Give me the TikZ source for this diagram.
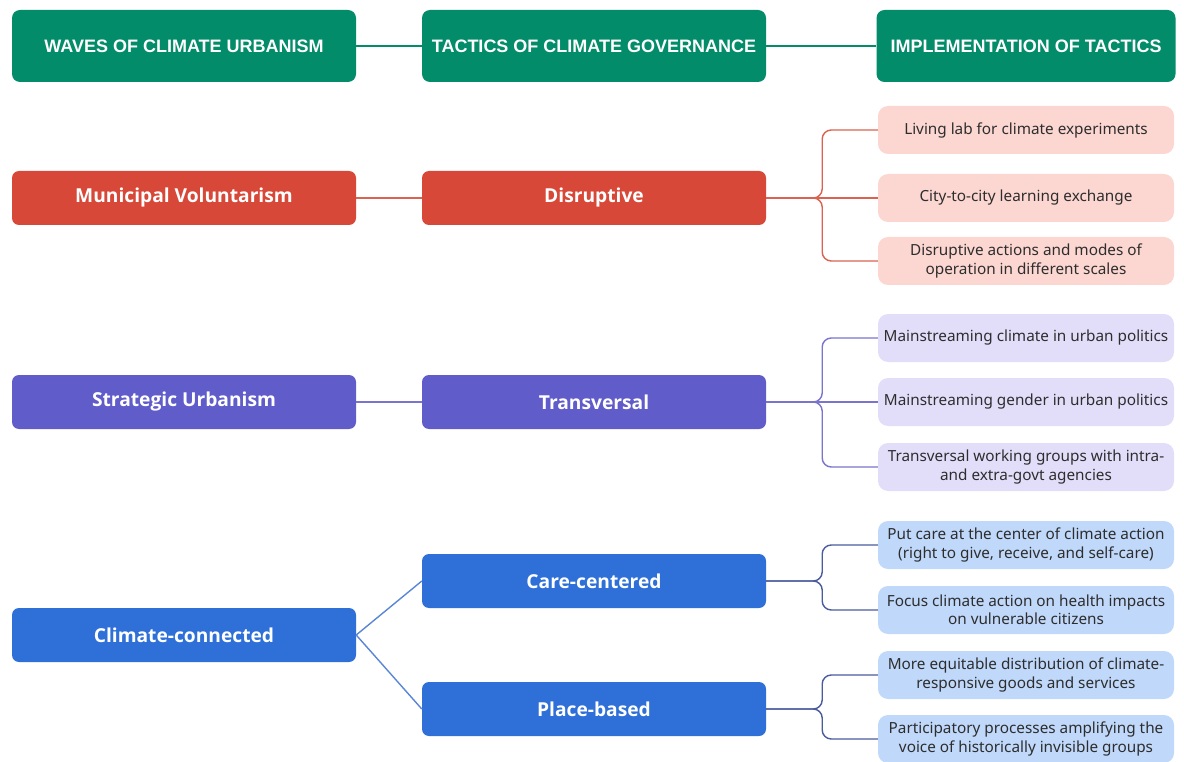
\documentclass[tikz,border=0pt]{standalone}
\usepackage{fontspec}
\setmainfont{Liberation Sans}
\newfontfamily\boxfont{Open Sans}
\newfontfamily\leaffont{Noto Sans}
\usetikzlibrary{positioning}
\definecolor{headgreen}{RGB}{3,140,106}
\definecolor{wavered}{RGB}{216,72,56}
\definecolor{leafred}{RGB}{252,214,209}
\definecolor{linered}{RGB}{217,98,80}
\definecolor{wavepurple}{RGB}{96,92,202}
\definecolor{leafpurple}{RGB}{226,222,250}
\definecolor{linepurple}{RGB}{122,116,204}
\definecolor{waveblue}{RGB}{46,112,216}
\definecolor{leafblue}{RGB}{192,216,250}
\definecolor{lineblue}{RGB}{74,92,156}
\definecolor{diagblue}{RGB}{90,134,214}
\definecolor{leaftext}{RGB}{45,45,45}
\tikzset{
  headbox/.style={rectangle, rounded corners=8pt, fill=headgreen, text=white,
    minimum height=72pt, font=\fontsize{18}{21}\selectfont\bfseries},
  wavebox/.style={rectangle, rounded corners=7pt, text=white, minimum width=344pt,
    minimum height=54pt, font=\boxfont\bfseries\fontsize{19.2}{22}\selectfont},
  leafbox/.style={rectangle, rounded corners=10pt, minimum width=296pt,
    minimum height=48pt, inner sep=2pt, align=center, text=leaftext,
    font=\leaffont\fontsize{15.3}{18.5}\selectfont},
  link/.style={line width=1.4pt},
  brace/.style={line width=1.4pt, rounded corners=9pt},
}
\begin{document}
\begin{tikzpicture}[x=1pt, y=-1pt]
\useasboundingbox (0,0) rectangle (1184,762);
% headers
\node[headbox, minimum width=344pt] (waves) at (184,46) {WAVES OF CLIMATE URBANISM};
\node[headbox, minimum width=344pt] (tactics) at (594,46) {TACTICS OF CLIMATE GOVERNANCE};
\node[headbox, minimum width=299pt] (impl) at (1026,46) {IMPLEMENTATION OF TACTICS};
\draw[link, headgreen] (waves.east) -- (tactics.west);
\draw[link, headgreen] (tactics.east) -- (impl.west);

% municipal voluntarism
\node[wavebox, fill=wavered] (muni) at (184,198) {Municipal Voluntarism};
\node[wavebox, fill=wavered] (disr) at (594,198) {Disruptive};
\node[leafbox, fill=leafred] (lab) at (1026,130) {Living lab for climate experiments};
\node[leafbox, fill=leafred] (city) at (1026,198) {City-to-city learning exchange};
\node[leafbox, fill=leafred] (modes) at (1026,261) {Disruptive actions and modes of\\operation in different scales};
\draw[link, linered] (muni.east) -- (disr.west);
\draw[brace, linered] (disr.east) -- ++(56,0) |- (lab.west);
\draw[link, linered] (disr.east) -- (city.west);
\draw[brace, linered] (disr.east) -- ++(56,0) |- (modes.west);

% strategic urbanism
\node[wavebox, fill=wavepurple] (strat) at (184,402) {Strategic Urbanism};
\node[wavebox, fill=wavepurple] (trans) at (594,402) {Transversal};
\node[leafbox, fill=leafpurple] (clim) at (1026,338) {Mainstreaming climate in urban politics};
\node[leafbox, fill=leafpurple] (gend) at (1026,402) {Mainstreaming gender in urban politics};
\node[leafbox, fill=leafpurple] (work) at (1026,467) {Transversal working groups with intra-\\and extra-govt agencies};
\draw[link, linepurple] (strat.east) -- (trans.west);
\draw[brace, linepurple] (trans.east) -- ++(56,0) |- (clim.west);
\draw[link, linepurple] (trans.east) -- (gend.west);
\draw[brace, linepurple] (trans.east) -- ++(56,0) |- (work.west);

% climate-connected
\node[wavebox, fill=waveblue] (conn) at (184,635) {Climate-connected};
\node[wavebox, fill=waveblue] (care) at (594,581) {Care-centered};
\node[wavebox, fill=waveblue] (place) at (594,709) {Place-based};
\node[leafbox, fill=leafblue] (putcare) at (1026,545) {Put care at the center of climate action\\(right to give, receive, and self-care)};
\node[leafbox, fill=leafblue] (health) at (1026,610) {Focus climate action on health impacts\\on vulnerable citizens};
\node[leafbox, fill=leafblue] (goods) at (1026,675) {More equitable distribution of climate-\\responsive goods and services};
\node[leafbox, fill=leafblue] (voice) at (1026,739) {Participatory processes amplifying the\\voice of historically invisible groups};
\draw[link, diagblue] (conn.east) -- (care.west);
\draw[link, diagblue] (conn.east) -- (place.west);
\draw[brace, lineblue] (care.east) -- ++(56,0) |- (putcare.west);
\draw[brace, lineblue] (care.east) -- ++(56,0) |- (health.west);
\draw[brace, lineblue] (place.east) -- ++(56,0) |- (goods.west);
\draw[brace, lineblue] (place.east) -- ++(56,0) |- (voice.west);
\end{tikzpicture}
\end{document}
